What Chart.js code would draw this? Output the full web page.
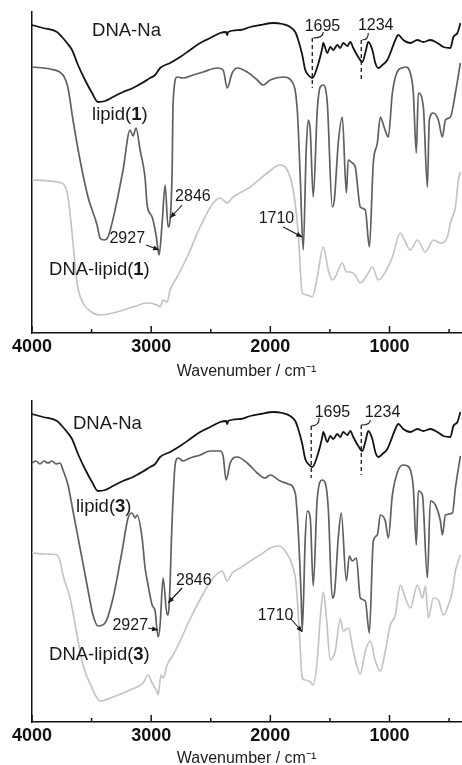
<!DOCTYPE html>
<html><head><meta charset="utf-8">
<script src="https://cdn.jsdelivr.net/npm/chart.js@4.4.1/dist/chart.umd.min.js"></script>
<style>
html,body{margin:0;padding:0;background:#fff;overflow:hidden;width:462px;height:765px;position:relative;}
.wrap{position:absolute;left:0;width:462px;height:385px;}
#w1{top:0}
#w2{top:389px}
canvas{display:block}
</style></head><body>
<div class="wrap" id="w1"><canvas id="c1" width="462" height="385"></canvas></div>
<div class="wrap" id="w2"><canvas id="c2" width="462" height="385"></canvas></div>
<script>
// ---- axis ticks ----
const tickValues = [4000,3500,3000,2500,2000,1500,1000,500];
const tickLabels = ['4000','','3000','','2000','','1000',''];

// ---- DNA-Na (same sample in both panels) ----
const naWn = [4000,3908,3790,3748,3706,3664,3614,3555,3496,3446,3387,3320,3236,3152,3076,3009,2967,2925,2841,2757,2673,2589,2505,2421,2371,2362,2354,2253,2169,2085,1976,1900,1833,1791,1766,1732,1707,1673,1648,1606,1564,1556,1522,1497,1472,1438,1413,1388,1354,1329,1304,1262,1228,1203,1178,1144,1119,1094,1060,1018,993,951,926,884,825,766,716,657,598,548,489,464,430,405];
const naT = [308,305,301,296,290,283,268,253,240,231,232,236,241,245,250,255,258,265,270,276,283,290,295,300,301,298,301,303,306,308,310,309,306,301,293,278,263,257,255,266,285,290,280,286,283,288,285,290,287,291,285,276,271,280,291,283,270,265,268,273,280,293,298,293,290,293,291,293,290,286,285,296,300,310];

// ---- lipid(1) ----
const lip1Wn = [4000,3849,3740,3698,3656,3597,3530,3454,3429,3395,3362,3303,3236,3177,3152,3127,3093,3051,3034,2992,2959,2933,2908,2883,2858,2841,2824,2816,2782,2732,2648,2564,2446,2396,2362,2320,2278,2194,2110,2060,2001,1892,1816,1774,1749,1724,1699,1682,1665,1640,1606,1581,1556,1522,1480,1463,1430,1396,1362,1346,1312,1287,1245,1203,1169,1136,1102,1077,1043,1010,976,926,892,867,825,800,775,758,716,682,666,632,590,556,531,489,447,405];
const lip1T = [266,264,258,245,213,173,136,108,95,93,96,123,163,203,197,205,183,155,128,116,98,78,110,148,106,113,163,230,256,255,258,261,265,263,245,260,265,261,253,248,253,256,251,223,156,83,183,213,203,136,223,246,248,230,126,133,190,216,140,173,170,166,126,123,86,170,190,216,205,196,240,263,265,266,260,240,180,240,226,146,213,220,213,196,213,216,240,270];

// ---- DNA-lipid(1) ----
const dl1Wn = [4000,3748,3698,3664,3622,3572,3513,3429,3286,3152,3034,2950,2925,2900,2866,2841,2782,2698,2589,2480,2421,2387,2362,2312,2169,2026,1917,1858,1808,1766,1732,1690,1648,1606,1556,1514,1480,1455,1396,1362,1329,1287,1245,1178,1144,1094,1035,976,909,875,825,766,699,632,573,514,489,447,422,405];
const dl1T = [153,150,136,100,50,30,22,18,21,26,30,28,26,33,31,43,56,76,106,130,135,132,130,136,146,160,168,163,143,100,40,38,36,56,86,63,53,56,70,61,61,58,50,60,66,53,61,76,100,93,83,93,81,93,90,96,110,126,153,161];

// ---- lipid(3) ----
const lip3Wn = [4000,3967,3933,3899,3866,3832,3799,3765,3740,3698,3656,3597,3538,3488,3446,3387,3320,3244,3194,3160,3135,3118,3076,3051,3026,2992,2967,2942,2925,2900,2866,2849,2824,2799,2774,2732,2673,2589,2505,2421,2396,2371,2337,2278,2194,2110,2043,2001,1917,1850,1791,1766,1741,1732,1707,1690,1665,1640,1606,1564,1539,1514,1480,1463,1430,1405,1362,1337,1312,1278,1245,1203,1169,1136,1102,1077,1035,1010,976,926,884,850,825,800,775,758,724,682,657,615,573,556,531,472,447,405];
const lip3T = [259,261,258,261,259,261,258,259,252,237,211,174,137,107,96,99,124,171,204,209,204,207,184,154,137,117,111,85,97,144,107,117,202,257,264,261,264,267,271,271,266,242,259,265,259,249,244,247,241,238,229,191,124,91,184,211,204,136,224,242,239,214,124,128,184,209,141,166,161,164,124,121,89,181,187,207,201,184,227,252,257,256,252,234,177,231,227,144,221,217,201,187,207,209,234,266];

// ---- DNA-lipid(3) ----
const dl3Wn = [4000,3891,3790,3765,3740,3681,3622,3572,3496,3429,3320,3177,3068,3026,2992,2950,2942,2917,2900,2866,2816,2757,2673,2564,2480,2404,2362,2320,2253,2169,2085,2001,1934,1875,1816,1783,1757,1732,1707,1665,1640,1606,1581,1556,1531,1497,1455,1413,1388,1346,1304,1245,1203,1161,1119,1077,1035,993,951,909,867,825,766,724,699,674,632,590,548,506,472,447,422,405];
const dl3T = [169,168,167,161,147,124,87,57,34,21,25,32,39,47,39,30,27,47,44,57,67,81,103,128,144,151,141,149,154,161,167,174,176,171,157,137,91,44,42,40,37,62,104,130,107,62,71,103,91,94,71,48,71,81,61,51,71,97,107,137,124,114,137,124,136,104,124,122,107,117,131,151,161,167];

const FAM = '"Liberation Sans", Arial, Helvetica, sans-serif';
const INK = '#1a1a1a';

// annotations (in data coordinates: wavenumber, value)
const NOTES = {
  c1: {
    labels: [
      {wn:3496, v:302, size:18.5, parts:[['DNA-Na',0]]},
      {wn:3496, v:218, size:18.5, parts:[['lipid(',0],['1',1],[')',0]]},
      {wn:3857, v:63,  size:18.5, parts:[['DNA-lipid(',0],['1',1],[')',0]]},
      {wn:3350, v:94,  size:16, parts:[['2927',0]]},
      {wn:2799, v:136, size:16, parts:[['2846',0]]},
      {wn:2098, v:114, size:16, parts:[['1710',0]]},
      {wn:1712, v:306, size:16, parts:[['1695',0]]},
      {wn:1265, v:307, size:16, parts:[['1234',0]]}
    ],
    arrows: [[3043,88,2933,83],[2740,128,2841,115],[1892,106,1732,96]],
    dashes: [[1648,295,245],[1237,293,251]],
    hooks: [[1556,301,1640,295],[1178,300,1228,293]]
  },
  c2: {
    labels: [
      {wn:3656, v:298.5, size:18.5, parts:[['DNA-Na',0]]},
      {wn:3631, v:215, size:18.5, parts:[['lipid(',0],['3',1],[')',0]]},
      {wn:3857, v:67,  size:18.5, parts:[['DNA-lipid(',0],['3',1],[')',0]]},
      {wn:3325, v:96,  size:16, parts:[['2927',0]]},
      {wn:2791, v:141, size:16, parts:[['2846',0]]},
      {wn:2106, v:106, size:16, parts:[['1710',0]]},
      {wn:1628, v:309, size:16, parts:[['1695',0]]},
      {wn:1208, v:309, size:16, parts:[['1234',0]]}
    ],
    arrows: [[3026,94,2942,92],[2740,134,2858,119],[1833,104,1732,90]],
    dashes: [[1657,296,244],[1237,297,247]],
    hooks: [[1590,304,1657,296],[1161,302,1237,297]]
  }
};

const inwardTicks = {
  id:'inwardTicks',
  afterDraw(chart){
    const xs = chart.scales.x, ctx = chart.ctx, y0 = chart.chartArea.bottom;
    ctx.save(); ctx.strokeStyle = '#111'; ctx.lineWidth = 1.5;
    tickValues.forEach((v,i)=>{
      const px = xs.getPixelForValue(v);
      const len = tickLabels[i] ? 7 : 4;
      ctx.beginPath(); ctx.moveTo(px, y0); ctx.lineTo(px, y0 - len); ctx.stroke();
    });
    ctx.restore();
  }
};

const notesPlugin = {
  id:'notes',
  afterDraw(chart){
    const n = NOTES[chart.canvas.id]; if(!n) return;
    const xs = chart.scales.x, ys = chart.scales.y, ctx = chart.ctx;
    const X = w => xs.getPixelForValue(w), Y = v => ys.getPixelForValue(v);
    ctx.save();
    ctx.fillStyle = INK; ctx.strokeStyle = INK;
    ctx.textBaseline = 'middle'; ctx.textAlign = 'left';
    n.labels.forEach(l=>{
      let x = X(l.wn); const y = Y(l.v);
      l.parts.forEach(p=>{
        ctx.font = (p[1] ? 'bold ' : '') + l.size + 'px ' + FAM;
        ctx.fillText(p[0], x, y);
        x += ctx.measureText(p[0]).width;
      });
    });
    ctx.lineWidth = 1.1;
    n.arrows.forEach(a=>{
      const x1=X(a[0]), y1=Y(a[1]), x2=X(a[2]), y2=Y(a[3]);
      ctx.beginPath(); ctx.moveTo(x1,y1); ctx.lineTo(x2,y2); ctx.stroke();
      const ang = Math.atan2(y2-y1, x2-x1), L=6, W=2.5;
      ctx.beginPath(); ctx.moveTo(x2,y2);
      ctx.lineTo(x2-L*Math.cos(ang)+W*Math.sin(ang), y2-L*Math.sin(ang)-W*Math.cos(ang));
      ctx.lineTo(x2-L*Math.cos(ang)-W*Math.sin(ang), y2-L*Math.sin(ang)+W*Math.cos(ang));
      ctx.closePath(); ctx.fill();
    });
    ctx.lineWidth = 1.3; ctx.setLineDash([4,3]);
    n.dashes.forEach(d=>{
      const x = X(d[0]);
      ctx.beginPath(); ctx.moveTo(x, Y(d[1])); ctx.lineTo(x, Y(d[2])); ctx.stroke();
    });
    ctx.setLineDash([]); ctx.lineWidth = 1.1;
    n.hooks.forEach(h=>{
      const x1=X(h[0]), y1=Y(h[1]), x2=X(h[2]), y2=Y(h[3]);
      ctx.beginPath(); ctx.moveTo(x1,y1); ctx.quadraticCurveTo(x1,y2,x2,y2); ctx.stroke();
    });
    ctx.restore();
  }
};

function series(wn, t, color, width){
  return {data: wn.map((w,i)=>({x:w, y:t[i]})), borderColor:color, borderWidth:width,
          pointRadius:0, fill:false, cubicInterpolationMode:'monotone'};
}

function makeChart(id, sets, padTop, padBottom, titlePadTop){
  return new Chart(document.getElementById(id), {
    type:'line',
    data:{datasets: sets},
    options:{
      responsive:false, animation:false, devicePixelRatio:1,
      layout:{padding:{left:32, right:1, top:padTop, bottom:padBottom}},
      plugins:{legend:{display:false}, tooltip:{enabled:false}},
      scales:{
        x:{type:'linear', min:400, max:4000, reverse:true,
          afterBuildTicks: s => { s.ticks = tickValues.map(v=>({value:v})); },
          ticks:{autoSkip:false, maxRotation:0, padding:3, color:'#111',
            font:{family:FAM, size:18, weight:'bold'},
            callback:(v,i)=> tickLabels[i] || ''},
          grid:{display:false, drawTicks:false},
          border:{display:true, color:'#111', width:1.5},
          title:{display:true, text:'Wavenumber / cm\u207B\u00B9', color:'#222',
            font:{family:FAM, size:16, lineHeight:1.125}, padding:{top:titlePadTop, bottom:0}}
        },
        y:{min:0, max:321, ticks:{display:false}, grid:{display:false, drawTicks:false},
          border:{display:true, color:'#111', width:1.5}}
      }
    },
    plugins:[inwardTicks, notesPlugin]
  });
}

makeChart('c1', [
  series(naWn, naT, '#141414', 1.8),
  series(lip1Wn, lip1T, '#606060', 1.7),
  series(dl1Wn, dl1T, '#c4c4c4', 1.7)
], 12, 4, 2.4);

makeChart('c2', [
  series(naWn, naT, '#141414', 1.8),
  series(lip3Wn, lip3T, '#606060', 1.7),
  series(dl3Wn, dl3T, '#c4c4c4', 1.7)
], 12, 6.4, 0);
</script>
</body></html>
